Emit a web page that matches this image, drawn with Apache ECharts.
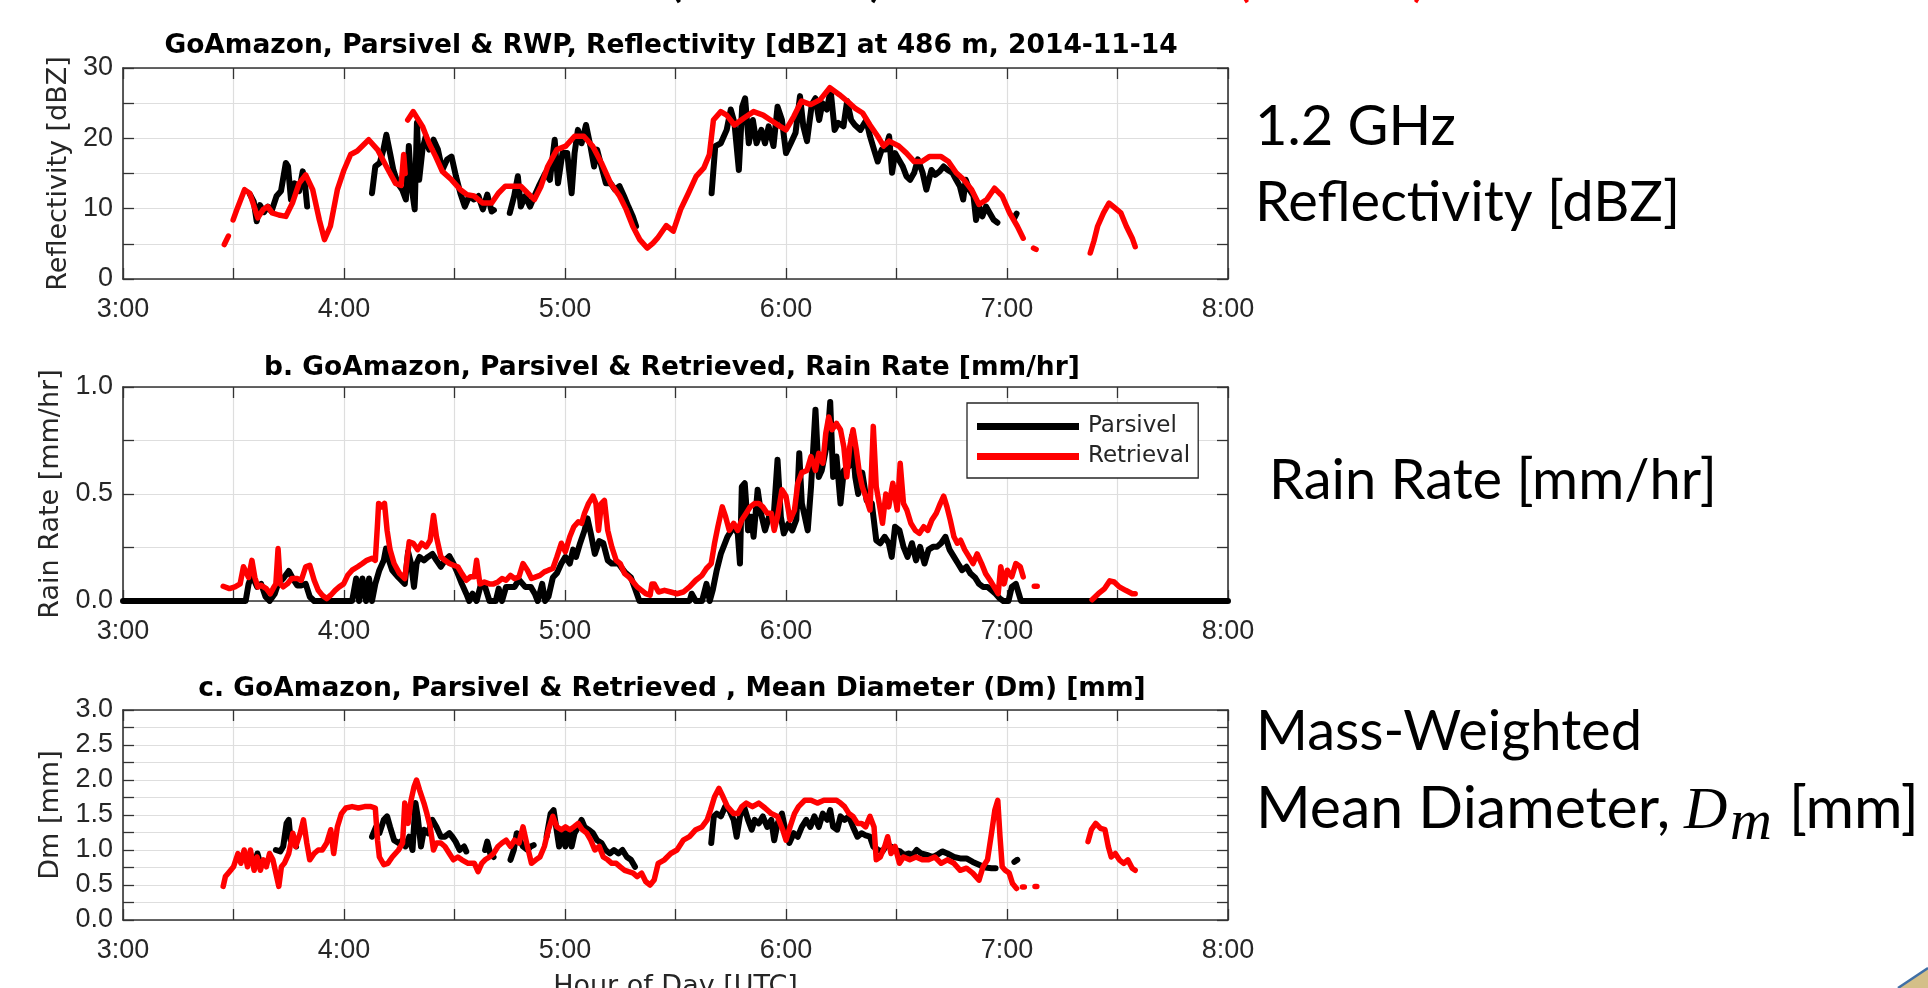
<!DOCTYPE html>
<html><head><meta charset="utf-8">
<script src="https://cdn.jsdelivr.net/npm/echarts@6/dist/echarts.min.js"></script>
<style>html,body{margin:0;padding:0;background:#fff;overflow:hidden}#chart{width:1928px;height:988px}</style>
</head><body><div id="chart"></div>
<script>
// ---- time axis: minutes after 03:00 UTC ----
const hourTickValues = [180, 240, 300, 360, 420, 480];
const hourTickLabels = ['3:00', '4:00', '5:00', '6:00', '7:00', '8:00'];
const refTickValues = [0, 10, 20, 30];
const refTickLabels = ['0', '10', '20', '30'];
const rainTickValues = [0, 0.5, 1];
const rainTickLabels = ['0.0', '0.5', '1.0'];
const dmTickValues = [0, 0.5, 1, 1.5, 2, 2.5, 3];
const dmTickLabels = ['0.0', '0.5', '1.0', '1.5', '2.0', '2.5', '3.0'];

const seriesNames = ['Parsivel', 'Retrieval'];
const panelTitles = [
  'GoAmazon, Parsivel & RWP, Reflectivity [dBZ] at 486 m, 2014-11-14',
  'b. GoAmazon, Parsivel & Retrieved, Rain Rate [mm/hr]',
  'c. GoAmazon, Parsivel & Retrieved , Mean Diameter (Dm) [mm]'
];
const yNames = ['Reflectivity [dBZ]', 'Rain Rate [mm/hr]', 'Dm [mm]'];
const xName = 'Hour of Day [UTC]';
const sideTexts = ['1.2 GHz', 'Reflectivity [dBZ]', 'Rain Rate [mm/hr]', 'Mass-Weighted'];

// [minutes after 3:00, value]; null = gap
const refPar = [[34.5,12],[35.5,11],[36.3,8.2],[37.2,10.5],[38.3,9.5],[39.3,10.3],[40.3,9.6],[41.7,11.8],[42.9,12.5],[44.2,16.5],[44.8,16],[45.6,11.3],[46.6,13.6],[47.8,12.5],[48.8,15.3],[49.4,13.5],[50,10.3],[50.3,null],
[67.6,12.2],[68.5,16],[69.7,16.5],[70.7,18.4],[71.5,20.5],[72.5,17.9],[73.4,15.5],[74.6,13.6],[75.8,12.7],[76.8,11.3],[77.6,18.9],[78.2,13.6],[79.2,9.9],[79.8,22.2],[80.4,14.1],[81.3,18.4],[82.2,20.3],[83.1,18.4],[84.3,19.8],[85.5,18.4],[86.7,15.5],[88,17],[89.2,17.4],[90.4,14.6],[91.6,12.2],[92.8,10.3],[94,11.8],[95.3,11.3],[96.5,11.8],[97.7,9.9],[98.9,12],[100.1,9.6],[100.7,9.8],[101,null],
[105,9.4],[106.2,11.8],[107.2,14.6],[108,10.3],[109.2,11.8],[110.5,10.3],[111.7,11.8],[112.9,13.2],[114.7,15.1],[115.9,14.1],[117.2,19.8],[118.1,13.6],[119.3,17.9],[120.6,17.9],[121.8,12.2],[122.6,17.9],[123.5,21.2],[124.5,19.3],[125.7,21.9],[126.9,18.9],[127.9,16],[128.7,18.4],[129.9,16],[131.1,13.6],[132.4,13.6],[133.6,12.7],[134.8,13.2],[136,11.8],[137.2,10.3],[138.4,8.9],[139.3,7.5],[139.6,null],
[159.8,12.2],[160.8,18.9],[162.3,19.3],[163.9,21.2],[165,24.1],[166,22.2],[167.2,15.5],[168.1,24.5],[168.9,25.7],[169.9,19.3],[171,22.6],[172,19.3],[173.3,21.2],[174.3,19.3],[175.3,21.7],[176.6,18.9],[177.7,24.5],[178.9,22.6],[180,17.9],[181.3,19.3],[182.6,20.8],[183.8,26],[184.7,21.7],[185.7,19.6],[187,24.8],[188,25.7],[189,22.6],[189.9,25],[191.1,24.1],[192.1,26.9],[193.2,21.2],[194.2,22.2],[195.6,21.7],[196.6,25.3],[197.7,22.6],[198.7,21.9],[200.2,21.2],[201.8,22.6],[202.8,20.3],[203.9,18.4],[204.9,16.7],[206,18.4],[207,18.4],[208,20.3],[208.8,15.1],[209.6,17.9],[210.6,17],[211.7,16],[212.7,14.6],[213.7,14.1],[214.8,15.1],[215.8,17],[217.1,15.1],[218.1,12.7],[219.5,15.5],[220.5,14.8],[221.7,15.3],[222.8,16],[223.9,15.5],[225.2,15.1],[226.2,14.1],[227.2,13.2],[228.1,11.3],[228.8,14.1],[229.8,12.7],[230.9,11.8],[231.6,8.4],[232.4,10.3],[233.3,8.9],[234.3,10.3],[235.3,9.4],[236.4,8.4],[237.4,8],[237.7,null],
[241.9,8.6],[242.6,9.3]];

const refRet = [[27.5,4.9],[28.6,6.1],[28.9,null],[29.9,8.4],[31,10],[33,12.7],[34.4,12.2],[35.6,10.3],[36.6,8.7],[38.1,9.9],[39.3,10.3],[40.5,9.4],[42.3,9.1],[44.2,8.9],[46,10.8],[47.8,13.6],[49.6,14.8],[51.5,12.7],[53.3,8.4],[54.7,5.6],[56.3,7.5],[58.2,12.7],[60,15.5],[61.8,17.7],[63.6,18.2],[66.7,19.8],[69.1,18.4],[71.5,16],[74,13.6],[75.5,13.3],[76.2,17.7],[76.6,15],[77,null],
[77.3,22.6],[78.8,23.8],[81.3,21.7],[83.1,19.3],[84.9,17.4],[86.7,15.3],[89.2,14.1],[91.6,12.7],[93.4,12],[95.3,11.8],[97.7,10.8],[100.1,10.8],[101.9,12.2],[103.8,13.2],[106.2,13.2],[108,13.2],[109.9,12.2],[111.7,11.3],[113.5,13.2],[115.3,16],[117.8,18.4],[120.2,18.9],[122.6,20.3],[125.1,20.3],[127.5,18.9],[129.9,16.5],[132.4,13.6],[134.8,11.8],[136.6,9.9],[138.4,7.5],[140.3,5.6],[142.3,4.4],[143.9,5.1],[145.1,5.8],[147.5,7.6],[149.4,6.8],[151.4,9.9],[153.5,12.2],[155.6,14.6],[157.7,15.8],[159.2,17.7],[160.3,22.6],[162.3,23.8],[163.9,23.3],[166,21.9],[168.6,22.9],[171.2,23.8],[173.8,23.3],[176.4,22.4],[178.4,21.7],[180,21.2],[182.1,23.1],[184.2,25.3],[186.7,24.8],[189.3,25.5],[191.9,27.2],[194.5,26.2],[196.6,25.3],[198.7,24.3],[200.8,23.6],[202.8,21.9],[204.9,20.3],[206.5,18.9],[208,19.6],[210.6,18.9],[212.7,17.9],[214.8,16.7],[216.9,16.7],[218.9,17.4],[222.1,17.4],[224.1,16.7],[226.2,15.1],[228.3,14.1],[230.4,12.7],[232.4,10.6],[234.5,11.3],[236.6,12.9],[238.7,11.8],[240.7,9.4],[242.8,7.5],[244.4,5.8],[244.7,null],
[247.2,4.4],[247.9,4.2],[248.2,null],
[262.6,3.7],[263.6,5.4],[264.6,7.5],[266.2,9.4],[267.7,10.8],[269.3,10.1],[270.9,9.4],[272.4,7.5],[274,5.8],[274.8,4.6]];

const rainPar = [[0,0],[33.3,0],[34.1,0.08],[35,0.12],[36.4,0.066],[37.5,0.08],[38.7,0.02],[39.8,0],[41.2,0.034],[42.1,0.08],[43.5,0.105],[45,0.14],[46.1,0.105],[47.3,0.073],[48.4,0.073],[49.6,0.08],[50.7,0.02],[51.9,0],[62.2,0],[63.3,0.105],[64.1,0],[65,0.105],[66,0],[66.8,0.105],[67.6,0],[68.5,0.08],[69.6,0.144],[70.8,0.19],[71.4,0.245],[72.2,0.19],[73.1,0.144],[74.8,0.11],[76.5,0.08],[77.4,0.23],[78.2,0.175],[79,0.066],[79.7,0.175],[80.5,0.206],[81.7,0.19],[82.8,0.206],[84,0.22],[85.1,0.19],[86.3,0.16],[87.4,0.19],[88.6,0.21],[89.7,0.175],[90.9,0.128],[92,0.08],[93.2,0.034],[94,0],[94.9,0.034],[96,0],[97.2,0.08],[98.3,0.066],[99.5,0],[101.2,0],[102,0.058],[102.9,0],[104,0.066],[105.2,0.066],[106.3,0.066],[107.5,0.1],[109.2,0.066],[110.7,0.066],[111.8,0.034],[112.6,0],[113.8,0.08],[114.6,0],[115.5,0.02],[116.7,0.11],[117.8,0.13],[119,0.175],[120.1,0.206],[121.3,0.175],[122.2,0.24],[123,0.206],[124.1,0.27],[125.3,0.33],[126.1,0.386],[127,0.316],[128.1,0.22],[129.3,0.28],[130.4,0.27],[131.6,0.19],[132.7,0.175],[134.5,0.175],[136.2,0.136],[137.9,0.11],[139,0.058],[140.2,0],[153.8,0],[154.4,0.034],[155.5,0],[157.2,0],[158.4,0.08],[159.3,0],[160.1,0.05],[161.2,0.144],[162.3,0.22],[164.1,0.3],[165.8,0.347],[166.9,0.316],[167.5,0.175],[168,0.534],[168.8,0.55],[169.7,0.33],[170.5,0.394],[171.2,0.3],[172.3,0.52],[173.2,0.41],[174.3,0.33],[175.4,0.394],[176.6,0.38],[177.7,0.66],[178.6,0.394],[179.4,0.316],[180.6,0.36],[181.7,0.33],[182.8,0.38],[183.6,0.69],[184.3,0.456],[185.1,0.394],[185.9,0.33],[186.8,0.534],[188,0.894],[188.9,0.58],[189.7,0.61],[191.2,0.74],[192,0.93],[192.8,0.58],[193.7,0.675],[194.8,0.456],[195.7,0.61],[197.1,0.63],[197.9,0.77],[198.8,0.58],[199.6,0.5],[200.7,0.6],[201.9,0.47],[203.3,0.456],[204.5,0.284],[205.6,0.27],[206.8,0.3],[207.9,0.27],[208.7,0.206],[209.6,0.347],[210.8,0.33],[211.9,0.253],[213,0.206],[214.2,0.27],[215.3,0.19],[216.4,0.253],[217.6,0.175],[218.7,0.24],[219.9,0.253],[221,0.253],[222.1,0.27],[223.3,0.3],[224.4,0.24],[225.6,0.206],[226.7,0.175],[227.8,0.144],[229,0.16],[230.1,0.128],[231.3,0.11],[232.4,0.08],[233.5,0.066],[234.7,0.066],[235.8,0.05],[236.9,0.034],[238.1,0.011],[239,0],[240.4,0],[241.3,0.066],[242.4,0.08],[243.2,0.034],[243.8,0],[300,0]];

const rainRet = [[27.2,0.069],[28.9,0.058],[30.4,0.066],[31.8,0.08],[32.7,0.16],[34.1,0.11],[35,0.19],[35.8,0.11],[36.6,0.066],[37.5,0.073],[38.9,0.058],[40,0.034],[41,0.066],[41.5,0.08],[42.1,0.245],[42.7,0.08],[43.5,0.066],[44.6,0.08],[45.8,0.105],[47.3,0.105],[48.4,0.097],[49.6,0.16],[50.7,0.167],[51.9,0.097],[53,0.05],[54.1,0.027],[55.3,0.011],[56.4,0.027],[57.6,0.05],[58.7,0.066],[59.9,0.08],[61,0.12],[62.2,0.144],[63.7,0.16],[65,0.175],[66.2,0.19],[67.6,0.2],[68.5,0.19],[69.1,0.36],[69.4,0.456],[70.2,0.44],[71,0.456],[71.7,0.33],[72.5,0.24],[73.6,0.175],[75.1,0.128],[76.5,0.105],[77.7,0.277],[78.8,0.27],[80,0.24],[81.1,0.27],[82.3,0.253],[83.4,0.284],[84.3,0.4],[85.1,0.3],[86.3,0.206],[87.4,0.19],[88.6,0.175],[89.7,0.167],[90.9,0.16],[92,0.128],[93.2,0.097],[94.3,0.113],[95.4,0.113],[96,0.19],[96.9,0.08],[98.1,0.089],[99.5,0.08],[100.6,0.08],[101.8,0.089],[102.9,0.105],[104,0.097],[105.2,0.12],[106.3,0.105],[107.5,0.113],[108.6,0.175],[109.8,0.144],[110.9,0.105],[112.1,0.113],[113.2,0.12],[114.4,0.136],[115.5,0.144],[116.7,0.152],[117.8,0.206],[119,0.27],[120.1,0.23],[121.3,0.3],[122.4,0.347],[123.6,0.37],[124.5,0.363],[125.3,0.41],[126.4,0.456],[127.6,0.49],[128.4,0.456],[129.1,0.33],[129.9,0.456],[130.7,0.47],[131.6,0.33],[132.7,0.253],[133.9,0.19],[135,0.175],[136.2,0.128],[137.3,0.113],[138.5,0.089],[139.6,0.066],[140.8,0.05],[141.9,0.034],[143.1,0.027],[143.6,0.08],[144.2,0.08],[145.4,0.042],[147,0.05],[148.7,0.042],[150.4,0.034],[152.1,0.042],[153.8,0.066],[155.5,0.097],[157.2,0.12],[158.4,0.152],[159.7,0.175],[160.6,0.27],[161.5,0.347],[162.7,0.44],[163.6,0.394],[164.6,0.33],[165.8,0.363],[166.9,0.33],[168,0.378],[169.2,0.41],[170.3,0.44],[171.5,0.456],[172.6,0.456],[173.7,0.44],[174.9,0.41],[176,0.41],[176.8,0.33],[177.7,0.394],[178.9,0.52],[180,0.49],[181.1,0.378],[182.3,0.425],[183.2,0.55],[184.3,0.6],[185.7,0.61],[186.8,0.675],[188,0.61],[188.9,0.69],[190,0.644],[190.8,0.784],[191.6,0.86],[192.5,0.8],[193.7,0.83],[194.8,0.8],[195.7,0.72],[196.5,0.58],[197.3,0.72],[198.2,0.8],[199.1,0.706],[199.9,0.6],[200.7,0.534],[201.6,0.49],[202.8,0.425],[203.7,0.816],[204.5,0.534],[205.3,0.456],[206.2,0.363],[207.1,0.5],[207.9,0.44],[209,0.55],[210.2,0.425],[211,0.644],[211.9,0.456],[212.8,0.425],[213.9,0.363],[215.1,0.33],[216.2,0.316],[217.4,0.347],[218.5,0.33],[219.6,0.378],[220.8,0.41],[221.9,0.456],[222.8,0.49],[223.7,0.44],[224.6,0.378],[225.6,0.3],[226.5,0.27],[227.4,0.284],[228.5,0.24],[229.7,0.206],[230.8,0.175],[231.9,0.22],[233.1,0.175],[234.2,0.128],[235.4,0.097],[236.5,0.066],[237.6,0.034],[238.3,0.16],[239.2,0.08],[240.1,0.144],[241.3,0.113],[242.4,0.175],[243.6,0.16],[244.4,0.113],[244.8,null],
[247.4,0.069],[248.2,0.069],[248.5,null],
[263.1,0.006],[264.8,0.034],[266.5,0.058],[267.9,0.094],[269.1,0.089],[270.5,0.066],[272.2,0.05],[274,0.034],[274.8,0.034]];

const dmPar = [[34.6,0.86],[35.2,0.9],[35.8,0.81],[36.5,0.95],[37.3,0.8],[37.6,null],
[41.5,1.0],[42.7,0.98],[43.5,1.05],[44.4,1.38],[45,1.43],[45.5,1.14],[46.3,1.19],[47,1.05],[47.3,null],
[67.6,1.19],[68.7,1.33],[69.6,1.24],[70.8,1.43],[71.7,1.48],[72.5,1.33],[73.6,1.14],[74.8,1.1],[75.9,1.14],[76.7,1.05],[77.7,1.19],[78.6,1.0],[79.4,1.67],[80,1.48],[80.9,1.05],[81.7,1.29],[82.8,1.24],[84,1.43],[85.1,1.33],[86.3,1.19],[87.4,1.19],[88.6,1.24],[89.4,1.19],[90.3,1.12],[91.4,1.0],[92.6,1.05],[93.2,0.98],[93.5,null],
[98.3,1.0],[98.9,1.12],[99.7,0.95],[100.6,0.9],[100.9,null],
[105.2,0.86],[106.1,1.0],[106.9,1.24],[107.7,1.14],[108.6,1.05],[109.8,1.0],[110.7,1.05],[111.5,1.07],[111.8,null],
[115,1.19],[116.1,1.52],[116.9,1.57],[117.6,1.33],[118.4,1.05],[119.2,1.29],[120.1,1.05],[121,1.29],[121.8,1.05],[122.6,1.24],[123.6,1.33],[124.5,1.43],[125.3,1.33],[126.4,1.29],[127.6,1.24],[128.7,1.14],[129.9,1.1],[131,1.0],[132.2,0.95],[133.3,1.0],[134.5,0.95],[135.6,1.0],[136.8,0.9],[137.9,0.86],[139,0.76],[139.3,null],
[159.7,1.1],[160.4,1.48],[161.2,1.52],[162.3,1.48],[163.5,1.62],[164.6,1.57],[165.8,1.43],[166.6,1.19],[167.5,1.48],[168.6,1.62],[169.7,1.43],[170.7,1.29],[171.5,1.43],[172.6,1.38],[173.7,1.48],[174.9,1.33],[176,1.43],[176.8,1.14],[177.7,1.38],[178.9,1.52],[180,1.24],[180.9,1.1],[182.1,1.24],[183.2,1.19],[184.3,1.33],[185.5,1.43],[186.6,1.33],[187.7,1.48],[188.9,1.33],[190,1.52],[191.2,1.43],[192,1.57],[192.8,1.33],[193.9,1.29],[194.8,1.48],[195.9,1.43],[197.1,1.48],[198.2,1.33],[199.4,1.19],[200.5,1.24],[201.6,1.21],[202.8,1.19],[203.7,1.05],[205,1.0],[206.2,0.98],[207.3,1.07],[208.5,1.05],[209.6,1.0],[211,0.98],[212.1,0.93],[213.3,0.95],[214.4,0.93],[215.5,1.0],[216.7,0.95],[218.2,0.93],[219.9,0.9],[221,0.93],[222.4,0.98],[223.8,0.95],[225.6,0.9],[227.3,0.88],[229,0.88],[230.7,0.83],[232.4,0.79],[234.1,0.75],[235.8,0.74],[236.9,0.74],[237.2,null],
[242,0.83],[242.8,0.86]];

const dmRet = [[27.2,0.48],[27.8,0.62],[28.9,0.69],[30,0.76],[31.2,0.95],[32,0.81],[32.9,1.0],[33.8,0.76],[34.6,1.0],[35.6,0.71],[36.4,0.9],[37.3,0.71],[38.1,0.86],[38.9,0.76],[39.8,0.95],[40.7,0.86],[41.5,0.67],[42.3,0.48],[43,0.76],[43.8,0.81],[45,0.95],[46.1,1.24],[46.9,1.05],[48.1,1.24],[49,1.43],[49.9,1.1],[50.7,0.86],[51.9,0.95],[53,1.0],[54.1,1.0],[55.3,1.1],[56.4,1.29],[57.2,0.95],[58.2,1.33],[59.3,1.52],[60.5,1.6],[62.2,1.62],[63.9,1.6],[65.6,1.62],[67.3,1.62],[68.5,1.6],[69.1,1.14],[69.6,0.9],[70.8,0.79],[71.9,0.81],[73.1,0.9],[74.8,1.0],[75.9,1.1],[76.5,1.67],[77.4,1.38],[78.2,1.71],[79,1.9],[79.7,2.0],[80.5,1.86],[81.7,1.67],[82.5,1.52],[83.4,1.33],[84.3,1.0],[85.1,1.1],[86.3,1.1],[87.4,1.05],[88.6,0.95],[89.7,0.86],[90.9,0.9],[92,0.86],[93.7,0.81],[95.4,0.81],[96.4,0.69],[97.4,0.81],[98.3,0.86],[99.5,0.9],[100.6,0.95],[101.8,1.05],[102.9,1.1],[104,1.14],[105.2,1.05],[106.3,1.14],[107.5,1.1],[108.6,1.33],[109.8,1.05],[110.9,0.81],[112.1,0.86],[113.2,0.9],[114.4,1.05],[115.5,1.29],[116.7,1.48],[117.8,1.33],[119,1.29],[120.1,1.33],[121.3,1.29],[122.4,1.33],[123.6,1.38],[124.7,1.29],[125.9,1.24],[127,1.14],[128.1,1.0],[129.3,1.05],[130.4,0.9],[131.6,0.86],[132.7,0.81],[133.9,0.81],[135,0.76],[136.2,0.71],[137.3,0.69],[138.5,0.67],[139.6,0.62],[140.8,0.67],[141.9,0.55],[143.1,0.5],[144.2,0.57],[145.3,0.81],[147,0.86],[148.7,0.95],[150.4,1.0],[152.1,1.14],[153.8,1.19],[155.5,1.29],[157.2,1.33],[158.6,1.43],[159.5,1.57],[160.6,1.76],[161.8,1.88],[162.9,1.76],[164.1,1.62],[165.8,1.52],[166.9,1.52],[168,1.62],[169.2,1.67],[170.9,1.62],[172.6,1.67],[174.3,1.6],[176,1.52],[177.7,1.48],[179.1,1.29],[180,1.14],[181.1,1.33],[182.3,1.52],[183.4,1.62],[185.1,1.71],[186.8,1.71],[188.5,1.67],[190.3,1.71],[192,1.71],[193.7,1.71],[194.8,1.67],[195.9,1.62],[197.1,1.52],[198.2,1.48],[199.4,1.38],[200.5,1.38],[201.6,1.33],[202.8,1.48],[203.9,1.33],[204.5,0.86],[205.6,0.9],[206.8,1.05],[207.6,1.19],[208.5,0.95],[209.6,1.05],[210.8,0.81],[211.9,0.9],[213.6,0.86],[215.3,0.9],[217,0.86],[218.7,0.86],[220.4,0.9],[222.1,0.81],[223.8,0.86],[225.6,0.81],[227.3,0.71],[229,0.74],[230.7,0.67],[232.4,0.57],[233.5,0.76],[234.7,0.86],[235.8,1.24],[236.7,1.57],[237.5,1.71],[238.1,1.19],[238.7,0.76],[239.5,0.71],[240.6,0.67],[241.5,0.52],[242.6,0.45],[242.9,null],
[244.2,0.47],[244.7,0.47],[245,null],[247.6,0.48],[248.1,0.48],[248.4,null],
[262,1.12],[262.9,1.29],[264.1,1.38],[265.4,1.31],[266.6,1.29],[267.5,1.05],[268.3,0.9],[269.4,0.95],[270.5,0.86],[271.7,0.81],[272.8,0.86],[274,0.74],[274.8,0.71]];

// ---------------- chart ----------------
const AXC = '#333333', GRIDC = '#dedede', TXT = '#262626';
const SANS = "'Liberation Sans', Arial, sans-serif";
const DJ = "'DejaVu Sans', sans-serif";
const LATO = "Lato, 'Open Sans', sans-serif";

const grids = [
  { left: 123, top: 68, width: 1105, height: 211 },
  { left: 123, top: 387, width: 1105, height: 214 },
  { left: 123, top: 710, width: 1105, height: 210 }
];
const yCfg = [
  { min: 0, max: 30, interval: 5, vals: refTickValues, labs: refTickLabels, nameGap: 50 },
  { min: 0, max: 1, interval: 0.25, vals: rainTickValues, labs: rainTickLabels, nameGap: 57 },
  { min: 0, max: 3, interval: 0.25, vals: dmTickValues, labs: dmTickLabels, nameGap: 55 }
];

function fmt(vals, labs) {
  return function (v) {
    for (let i = 0; i < vals.length; i++) if (Math.abs(vals[i] - v) < 1e-6) return labs[i];
    return '';
  };
}
const axLine = { show: true, onZero: false, lineStyle: { color: AXC, width: 1.6 } };
const axTick = { show: true, inside: true, length: 11, lineStyle: { color: AXC, width: 1.3 } };

const xAxis = [], yAxis = [];
grids.forEach((g, gi) => {
  const xb = { type: 'value', gridIndex: gi, min: 180, max: 480, interval: 30 };
  xAxis.push(Object.assign({}, xb, {
    position: 'bottom', axisLine: axLine, axisTick: axTick,
    axisLabel: { show: true, formatter: fmt(hourTickValues, hourTickLabels), margin: 17, color: TXT, fontSize: 27, fontFamily: SANS },
    splitLine: { show: true, lineStyle: { color: GRIDC, width: 1.2 } },
    name: gi === 2 ? xName : '', nameLocation: 'middle', nameGap: 53,
    nameTextStyle: { fontFamily: DJ, fontSize: 27, color: TXT }
  }));
  xAxis.push(Object.assign({}, xb, {
    position: 'top', axisLine: axLine, axisTick: axTick,
    axisLabel: { show: false }, splitLine: { show: false }
  }));
  const c = yCfg[gi];
  const yb = { type: 'value', gridIndex: gi, min: c.min, max: c.max, interval: c.interval };
  yAxis.push(Object.assign({}, yb, {
    position: 'left', axisLine: axLine, axisTick: axTick,
    axisLabel: { show: true, formatter: fmt(c.vals, c.labs), margin: 10, color: TXT, fontSize: 27, fontFamily: SANS },
    splitLine: { show: true, lineStyle: { color: GRIDC, width: 1.2 } },
    name: yNames[gi], nameLocation: 'middle', nameGap: c.nameGap, nameRotate: 90,
    nameTextStyle: { fontFamily: DJ, fontSize: 27, color: TXT }
  }));
  yAxis.push(Object.assign({}, yb, {
    position: 'right', axisLine: axLine, axisTick: axTick,
    axisLabel: { show: false }, splitLine: { show: false }
  }));
});

function line(name, pairs, gi, color, width, z) {
  return {
    type: 'line', name: name, xAxisIndex: 2 * gi, yAxisIndex: 2 * gi,
    data: pairs.map(p => [180 + p[0], p[1] === null ? '-' : p[1]]),
    showSymbol: false, symbol: 'none', connectNulls: false,
    lineStyle: { color: color, width: width, join: 'round', cap: 'round' },
    itemStyle: { color: color }, z: z, animation: false,
    emphasis: { disabled: true }, silent: true
  };
}
const series = [
  line(seriesNames[0], refPar, 0, '#000000', 6, 2),
  line(seriesNames[1], refRet, 0, '#ff0000', 5.5, 3),
  line(seriesNames[0], rainPar, 1, '#000000', 6, 2),
  line(seriesNames[1], rainRet, 1, '#ff0000', 5.5, 3),
  line(seriesNames[0], dmPar, 2, '#000000', 6, 2),
  line(seriesNames[1], dmRet, 2, '#ff0000', 5.5, 3)
];

const SIDE = 56;
const mid = (baseline, size, k) => baseline - k * size;
const fLato = SIDE + 'px ' + LATO;
const fLatoL = '59px ' + LATO;
const fSerif = 'italic 60px "Liberation Serif", "DejaVu Serif", serif';
const fSerifM = 'italic 58px "Liberation Serif", "DejaVu Serif", serif';

function txt(x, y, text, font, fill, align) {
  return { type: 'text', x: x, y: y, silent: true, z: 50,
    style: { text: text, font: font, fill: fill || '#000', align: align || 'left', verticalAlign: 'middle',
             textAlign: align || 'left', textVerticalAlign: 'middle' } };
}
const titleFont = 'bold 26.5px ' + DJ;
const graphic = [
  txt(671, 46.2, panelTitles[0], titleFont, '#000', 'center'),
  txt(672, 367.8, panelTitles[1], titleFont, '#000', 'center'),
  txt(672, 689.5, panelTitles[2], titleFont, '#000', 'center'),
  txt(1255, mid(149, SIDE, 0.387), sideTexts[0], fLato),
  txt(1255, mid(225, SIDE, 0.387), sideTexts[1], fLato),
  txt(1269, mid(503, SIDE, 0.387), sideTexts[2], fLato),
  txt(1256, mid(754, SIDE, 0.387), sideTexts[3], fLato),
  txt(1256, mid(832, 59, 0.387), 'Mean Diameter,', fLatoL),
  txt(1684, mid(832, 60, 0.3375), 'D', fSerif),
  txt(1730, mid(843, 58, 0.3375), 'm', fSerifM),
  txt(1789, mid(832, 59, 0.387), '[mm]', fLatoL),
  // clipped slide heading (only parenthesis descenders visible)
  txt(675, -23, '(', fLato, '#000', 'center'),
  txt(877, -23, ')', fLato, '#000', 'center'),
  txt(1243, -23, '(', fLato, '#ff0000', 'center'),
  txt(1420, -23, ')', fLato, '#ff0000', 'center'),
  // corner decoration
  { type: 'polygon', silent: true, z: 40, shape: { points: [[1898, 988], [1928, 968], [1928, 988]] },
    style: { fill: '#d4bf88' } },
  { type: 'polyline', silent: true, z: 41, shape: { points: [[1898, 988], [1928, 968]] },
    style: { stroke: '#3f6fa6', lineWidth: 2.5, fill: null } }
];

const chart = echarts.init(document.getElementById('chart'), null, { renderer: 'canvas', width: 1928, height: 988 });
chart.setOption({
  backgroundColor: '#ffffff',
  animation: false,
  grid: grids.map(g => Object.assign({ containLabel: false, outerBoundsMode: 'none' }, g)),
  xAxis: xAxis,
  yAxis: yAxis,
  legend: {
    show: true, data: seriesNames, orient: 'vertical', left: 967, top: 403,
    icon: 'rect', itemWidth: 102, itemHeight: 7, itemGap: 7,
    padding: [12, 8, 10, 10], backgroundColor: '#ffffff', borderColor: TXT, borderWidth: 1.3,
    textStyle: { fontFamily: DJ, fontSize: 23, color: TXT, padding: [0, 0, 0, 4] },
    selectedMode: false, z: 20
  },
  series: series,
  graphic: graphic
});
</script>
</body></html>
